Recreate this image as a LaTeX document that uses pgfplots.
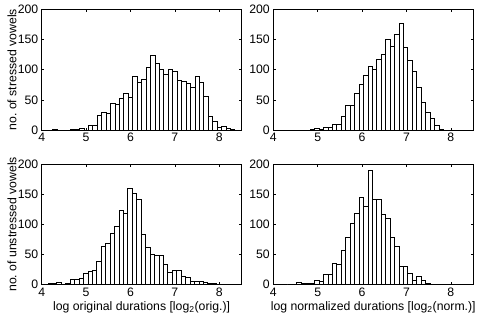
\documentclass[border=0pt]{standalone}
\usepackage{fontspec}
\setmainfont{Liberation Sans}
\usepackage{pgfplots}
\usepackage{pgfplotstable}
\pgfplotsset{compat=1.18}
\frenchspacing

\pgfplotstableread{
x y
4.3 1
4.7 1
4.8 1
4.9 2
5.1 7
5.2 7
5.3 24
5.4 29
5.5 27
5.6 44
5.7 43
5.8 53
5.9 60
6.0 54
6.1 89
6.2 79
6.3 84
6.4 104
6.5 123
6.6 111
6.7 101
6.8 92
6.9 100
7.0 97
7.1 83
7.2 81
7.3 77
7.4 71
7.5 89
7.6 79
7.7 55
7.8 22
7.9 14
8.0 4
8.1 6
8.2 2
8.3 1
}\TL

\pgfplotstableread{
x y
4.88 1
4.98 2
5.08 1
5.18 4
5.28 4
5.38 9
5.48 10
5.58 22
5.68 41
5.78 41
5.88 61
5.98 75
6.08 91
6.18 106
6.28 100
6.38 117
6.48 126
6.58 150
6.68 138
6.78 159
6.88 176
6.98 137
7.08 116
7.18 98
7.28 71
7.38 45
7.48 30
7.58 20
7.68 7
7.78 1
}\TR

\pgfplotstableread{
x y
4.09 1
4.19 2
4.29 3
4.39 4
4.49 1
4.59 2
4.69 9
4.79 9
4.89 11
4.99 19
5.09 22
5.19 24
5.29 38
5.39 63
5.49 68
5.59 85
5.69 96
5.79 124
5.89 119
5.99 160
6.09 151
6.19 142
6.29 84
6.39 62
6.49 50
6.59 49
6.69 48
6.79 33
6.89 21
6.99 24
7.09 23
7.19 14
7.29 12
7.39 6
7.49 6
7.59 6
7.69 4
7.79 3
7.89 3
7.99 1
8.09 1
}\BL

\pgfplotstableread{
x y
4.38 1
4.58 4
4.68 2
4.78 2
4.88 3
4.98 8
5.08 6
5.18 17
5.28 17
5.38 36
5.48 34
5.58 57
5.68 79
5.78 102
5.88 119
5.98 145
6.08 130
6.18 189
6.28 141
6.38 142
6.48 117
6.58 110
6.68 79
6.78 64
6.88 31
6.98 30
7.08 19
7.18 8
7.28 14
7.38 7
7.48 2
7.58 1
}\BR

\pgfplotsset{
  hist/.style={
    scale only axis, width=199.8bp, height=120.7bp,
    xmin=4, xmax=8.5, ymin=0, ymax=200,
    xtick={4,5,6,7,8}, ytick={0,50,100,150,200},
    tick align=inside, major tick length=2.5bp,
    tick pos=both, ticklabel pos=left,
    axis line style={line width=0.8bp},
    every tick/.style={black, line width=0.6bp},
    tick label style={font=\fontsize{12.3}{14}\selectfont},
    label style={font=\fontsize{12.3}{14}\selectfont},
    /pgf/number format/assume math mode=true,
    every x tick label/.append style={inner sep=0pt, anchor=north, yshift=-3bp},
    every y tick label/.append style={inner sep=0pt, anchor=east, xshift=-3.3bp},
    xlabel style={at={(axis description cs:0.5,0)}, anchor=base, yshift=-25.5bp, inner sep=0pt},
    ylabel style={at={(axis description cs:-0.125,0.5)}, anchor=south, inner sep=0pt},
  },
  hbar/.style={ybar, bar width=0.1, bar shift=0pt, fill=white, draw=black, line width=0.7bp},
}

\begin{document}
\begin{tikzpicture}
\useasboundingbox (0,0) rectangle (478bp,-318bp);
\begin{axis}[hist, at={(41.7bp,-9.3bp)}, anchor=north west, ylabel={no. of stressed vowels}]
\addplot[hbar] table[x=x,y=y] {\TL};
\end{axis}
\begin{axis}[hist, at={(273.3bp,-9.3bp)}, anchor=north west]
\addplot[hbar] table[x=x,y=y] {\TR};
\end{axis}
\begin{axis}[hist, at={(41.7bp,-164bp)}, anchor=north west, ylabel={no. of unstressed vowels}, xlabel={log original durations [log\textsubscript{2}(orig.)]}]
\addplot[hbar] table[x=x,y=y] {\BL};
\end{axis}
\begin{axis}[hist, at={(273.3bp,-164bp)}, anchor=north west, xlabel={log normalized durations [log\textsubscript{2}(norm.)]}]
\addplot[hbar] table[x=x,y=y] {\BR};
\end{axis}
\end{tikzpicture}
\end{document}
